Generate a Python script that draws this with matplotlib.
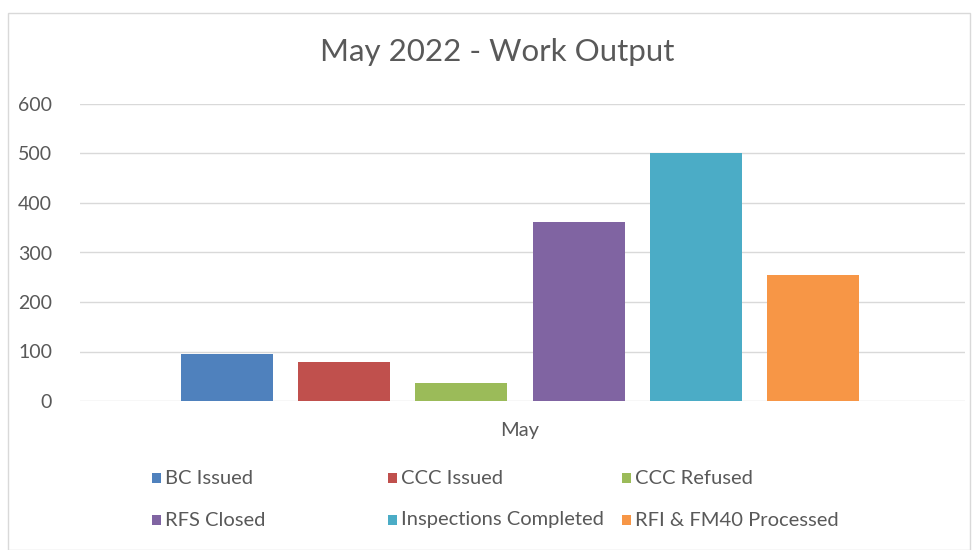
import matplotlib
matplotlib.use("Agg")
import matplotlib.pyplot as plt
from matplotlib.patches import Rectangle

plt.rcParams['font.family'] = ['Lato', 'DejaVu Sans']

title = "May 2022 - Work Output"
category = "May"
series = ["BC Issued", "CCC Issued", "CCC Refused", "RFS Closed",
          "Inspections Completed", "RFI & FM40 Processed"]
values = [95, 79, 36, 361, 501, 255]
colors = ["#4F81BD", "#C0504D", "#9BBB59", "#8064A2", "#4BACC6", "#F79646"]
yticks = [0, 100, 200, 300, 400, 500, 600]

W, H = 972, 550
fig = plt.figure(figsize=(W / 100, H / 100), dpi=100)
fig.patch.set_facecolor("white")

# chart border
fig.add_artist(Rectangle((8 / W, 0.0), (962 / W), 1 - 13 / H,
                         transform=fig.transFigure, fill=False,
                         edgecolor="#D9D9D9", linewidth=1.0))

left, right = 80 / W, 965 / W
bottom, top = 1 - 401 / H, 1 - 104 / H
ax = fig.add_axes([left, bottom, right - left, top - bottom])

pitch = 117.2
axw = 965 - 80
center_off = (520 - 80) / pitch
ax.set_xlim(-center_off, axw / pitch - center_off)
ax.set_ylim(0, 600)

n = len(series)
for i, (v, c) in enumerate(zip(values, colors)):
    ax.bar(i - (n - 1) / 2, v, width=92 / pitch, color=c, zorder=3)

ax.set_yticks(yticks)
ax.set_yticklabels([str(t) for t in yticks])
ax.yaxis.grid(True, color="#D9D9D9", linewidth=1.0, zorder=0)
ax.set_axisbelow(True)
for s in ax.spines.values():
    s.set_visible(False)
ax.tick_params(axis="y", length=0, pad=20, labelsize=14, labelcolor="#595959")
ax.set_xticks([0])
ax.set_xticklabels([category])
ax.tick_params(axis="x", length=0, pad=15, labelsize=14.5, labelcolor="#595959")

fig.text(497 / W, 1 - 52 / H, title, ha="center", va="center",
         fontsize=22.5, color="#595959")

# legend (Excel-style, row-major, equal column widths)
col_x = [152, 388, 622]
row_y = [478, 520]
for i, (name, c) in enumerate(zip(series, colors)):
    r, k = divmod(i, 3)
    x0, y0 = col_x[k], row_y[r]
    fig.add_artist(Rectangle((x0 / W, 1 - (y0 + 5) / H), 9 / W, 10 / H,
                             transform=fig.transFigure, facecolor=c,
                             edgecolor="none"))
    fig.text((x0 + 13) / W, 1 - y0 / H, name, ha="left", va="center",
             fontsize=14.5, color="#595959")

fig.savefig("out.png", dpi=100)
